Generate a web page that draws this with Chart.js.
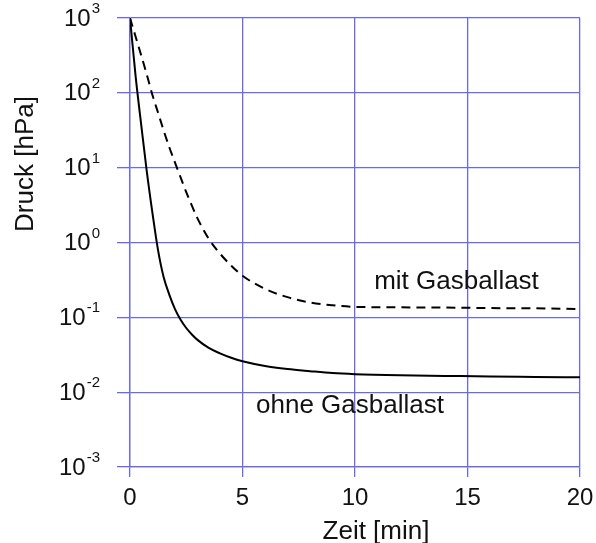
<!DOCTYPE html>
<html>
<head>
<meta charset="utf-8">
<script src="https://cdn.jsdelivr.net/npm/chart.js@4"></script>
<style>
  body { margin: 0; background: #fff; }
</style>
</head>
<body>
<canvas id="druckChart" width="596" height="543"></canvas>
<script>
// Zeit in Minuten
const times = [0, 0.25, 0.5, 0.75, 1, 1.25, 1.5, 1.75, 2, 2.25, 2.5, 2.75, 3, 3.5, 4, 4.5, 5, 6, 7, 8, 9, 10, 12, 14, 16, 18, 20];
// Druck in hPa
const ohneGasballast = [1000, 166, 37, 8.7, 2.45, 0.78, 0.34, 0.2, 0.129, 0.093, 0.072, 0.059, 0.05, 0.039, 0.033, 0.0288, 0.0259, 0.0224, 0.0204, 0.0191, 0.018, 0.0174, 0.0168, 0.0165, 0.0162, 0.016, 0.0158];
const mitGasballast = [1000, 562, 316, 174, 93, 54, 31, 18.6, 11.7, 7.4, 4.7, 3.1, 2.1, 1.12, 0.71, 0.49, 0.36, 0.24, 0.186, 0.158, 0.145, 0.138, 0.136, 0.135, 0.133, 0.132, 0.129];

const yTicks = [0.001, 0.01, 0.1, 1, 10, 100, 1000];
const yTickExponents = ['-3', '-2', '-1', '0', '1', '2', '3'];
const xTicks = [0, 5, 10, 15, 20];

// Beschriftungen im Diagramm: [text, zeit, druck]
const curveLabels = [
    ['mit Gasballast', 10.85, 0.236],
    ['ohne Gasballast', 5.6, 0.0052]
];

const FONT = '"Liberation Sans", Arial, sans-serif';
const gridColor = '#6a6ae8';

// y-Beschriftung als 10 mit hochgestelltem Exponenten
const textPlugin = {
    id: 'texte',
    afterDraw(chart) {
        const ctx = chart.ctx;
        const x = chart.scales.x;
        const y = chart.scales.y;
        ctx.save();
        ctx.fillStyle = '#111';

        const right = chart.chartArea.left - 30;
        ctx.textBaseline = 'middle';
        yTicks.forEach((v, i) => {
            const py = y.getPixelForValue(v) + 1;
            ctx.font = '15px ' + FONT;
            const ew = ctx.measureText(yTickExponents[i]).width;
            ctx.textAlign = 'left';
            ctx.fillText(yTickExponents[i], right - ew, py - 10);
            ctx.font = '24px ' + FONT;
            ctx.textAlign = 'right';
            ctx.fillText('10', right - ew - 1, py);
        });

        ctx.textBaseline = 'alphabetic';
        ctx.font = '26px ' + FONT;
        ctx.textAlign = 'left';
        curveLabels.forEach(([t, tx, ty]) => {
            ctx.fillText(t, x.getPixelForValue(tx), y.getPixelForValue(ty));
        });

        // Achsentitel
        ctx.textAlign = 'center';
        ctx.fillText('Zeit [min]', 376, 539);
        ctx.translate(33, 164);
        ctx.rotate(-Math.PI / 2);
        ctx.fillText('Druck [hPa]', 0, 0);
        ctx.restore();
    }
};

new Chart(document.getElementById('druckChart'), {
    type: 'line',
    data: {
        datasets: [
            {
                label: 'ohne Gasballast',
                data: times.map((t, i) => ({ x: t, y: ohneGasballast[i] })),
                borderColor: '#000',
                borderWidth: 2,
                pointRadius: 0,
                cubicInterpolationMode: 'monotone'
            },
            {
                label: 'mit Gasballast',
                data: times.map((t, i) => ({ x: t, y: mitGasballast[i] })),
                borderColor: '#000',
                borderWidth: 2,
                borderDash: [9, 6],
                pointRadius: 0,
                cubicInterpolationMode: 'monotone'
            }
        ]
    },
    options: {
        responsive: false,
        animation: false,
        layout: { padding: { top: 18, right: 16, left: 0, bottom: 0 } },
        plugins: {
            legend: { display: false },
            tooltip: { enabled: false }
        },
        scales: {
            x: {
                type: 'linear',
                min: 0,
                max: 20,
                afterBuildTicks: s => { s.ticks = xTicks.map(v => ({ value: v })); },
                afterFit: s => { s.height = 76; s.paddingLeft = 0; s.paddingRight = 0; },
                grid: { color: gridColor, tickLength: 10, lineWidth: 1.3 },
                border: { color: gridColor, width: 1.3 },
                ticks: { color: '#111', font: { family: FONT, size: 24 }, padding: 7, maxRotation: 0 }
            },
            y: {
                type: 'logarithmic',
                min: 0.001,
                max: 1000,
                afterBuildTicks: s => { s.ticks = yTicks.map(v => ({ value: v })); },
                afterFit: s => { s.width = 130; s.paddingTop = 0; s.paddingBottom = 0; },
                grid: { color: gridColor, tickLength: 13, lineWidth: 1.3 },
                border: { color: gridColor, width: 1.3 },
                ticks: { display: false }
            }
        }
    },
    plugins: [textPlugin]
});
</script>
</body>
</html>
